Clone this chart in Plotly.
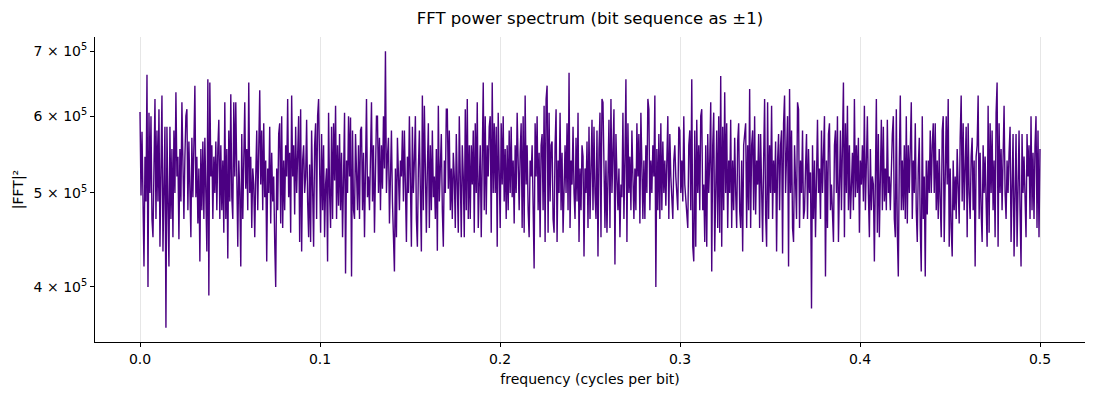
import numpy as np
import plotly.graph_objects as go

# |FFT|^2, in thousands, from f = 0 up to f = 0.5
power_k = [
    606, 497, 578, 451, 420, 545, 490, 662, 400, 605, 500, 600, 470, 450, 575, 625, 470, 580, 490, 610,
    440, 560, 630, 435, 520, 585, 363, 585, 490, 420, 585, 470, 555, 450, 580, 500, 635, 520, 545, 448,
    555, 490, 620, 520, 470, 545, 600, 610, 480, 565, 500, 450, 570, 495, 560, 645, 495, 545, 465, 530,
    425, 555, 480, 565, 470, 570, 500, 435, 655, 392, 650, 520, 560, 470, 545, 500, 565, 480, 555, 595,
    470, 560, 480, 540, 455, 620, 470, 555, 428, 580, 490, 632, 495, 470, 620, 520,
    # 0.06 - 0.12
    620, 490, 440, 540, 500, 420, 575, 470, 530, 620, 505, 555, 480, 650, 500, 545, 460, 530, 510, 450,
    520, 580, 480, 545, 638, 510, 580, 480, 590, 495, 540, 425, 530, 500, 585, 465, 550, 490, 520, 445,
    400, 530, 480, 575, 590, 465, 600, 460, 540, 480, 560, 520, 625, 495, 550, 455, 630, 520, 560, 475,
    585, 500, 545, 600, 445, 610, 435, 540, 560, 500, 520, 595, 490, 450, 535, 445, 580, 500, 440, 560,
    590, 470, 600, 625, 510, 455, 575, 480, 560, 450, 510, 530, 425, 605, 500, 460, 585, 470, 590, 515,
    615, 470, 560, 485, 575, 480, 550, 450, 520, 605, 413, 540, 500, 600, 520, 598,
    # 0.12 - 0.19
    410, 580, 480, 470, 575, 500, 480, 560, 470, 580, 585, 480, 550, 450, 540, 625, 495, 520, 480, 555,
    620, 490, 560, 455, 530, 600, 600, 500, 570, 480, 560, 505, 600, 530, 700, 500, 545, 570, 465, 520,
    580, 490, 433, 415, 530, 450, 570, 500, 480, 540, 520, 580, 490, 580, 510, 445, 545, 500, 600, 480,
    440, 585, 500, 540, 600, 470, 440, 530, 580, 500, 435, 630, 480, 615, 490, 455, 530, 590, 460, 560,
    480, 580, 495, 520, 470, 555, 436, 615, 490, 545, 575, 480, 440, 540, 500, 610, 610, 505, 580, 480,
    530, 470, 550, 520, 460, 575, 500, 455, 600, 480, 450, 560, 520, 450, 610, 480, 625, 470, 560,
    # 0.19 - 0.25
    470, 560, 510, 580, 455, 590, 500, 620, 460, 500, 560, 450, 540, 650, 480, 600, 475, 560, 520, 585,
    600, 455, 650, 500, 590, 500, 585, 440, 605, 500, 460, 590, 510, 600, 490, 555, 470, 560, 480, 580,
    500, 585, 495, 540, 465, 560, 500, 605, 510, 480, 550, 590, 460, 600, 455, 630, 510, 560, 480, 450,
    540, 520, 560, 480, 418, 590, 520, 600, 480, 550, 450, 560, 575, 480, 615, 445, 625, 645, 455, 605,
    490, 560, 565, 470, 455, 560, 610, 445, 540, 500, 605, 480, 550, 455, 520, 560, 500, 590, 480, 665,
    460, 540, 510, 585, 500, 470, 570, 490, 605, 445, 530, 480, 560, 545, 430, 530,
    # 0.25 - 0.31
    500, 565, 460, 585, 470, 540, 595, 480, 585, 500, 470, 580, 430, 555, 605, 450, 625, 620, 490, 460,
    540, 455, 520, 595, 460, 625, 500, 560, 610, 422, 575, 520, 480, 530, 450, 510, 495, 605, 470, 540,
    655, 445, 590, 500, 545, 480, 580, 520, 470, 530, 480, 590, 520, 575, 465, 605, 510, 470, 540, 470,
    560, 500, 625, 610, 480, 540, 500, 560, 520, 630, 400, 555, 480, 575, 470, 590, 480, 565, 500, 540,
    485, 555, 600, 470, 575, 520, 480, 470, 540, 560, 520, 500, 480, 585, 580, 500, 540, 490, 600, 510,
    490, 475, 460, 560, 580, 480, 655, 440, 425, 580, 440, 595, 500, 560, 480, 600,
    # 0.31 - 0.38
    610, 480, 510, 445, 560, 440, 575, 500, 540, 620, 415, 560, 605, 435, 520, 580, 460, 600, 455, 660,
    440, 585, 480, 635, 500, 590, 460, 540, 500, 595, 460, 540, 480, 570, 500, 460, 565, 590, 480, 460,
    540, 435, 560, 575, 590, 460, 560, 480, 640, 460, 560, 580, 480, 600, 475, 540, 510, 575, 460, 575,
    500, 445, 540, 625, 475, 440, 620, 470, 560, 500, 615, 470, 540, 500, 565, 435, 540, 575, 480, 560,
    580, 433, 590, 630, 500, 560, 600, 420, 640, 500, 580, 460, 445, 560, 510, 470, 620, 610, 460, 540,
    500, 580, 470, 480, 530, 575, 470, 555, 500, 525, 380, 560, 470, 540, 450, 550, 595, 500,
    # 0.38 - 0.44
    530, 470, 580, 500, 560, 600, 410, 540, 460, 575, 590, 480, 510, 470, 445, 560, 580, 500, 600, 445,
    540, 580, 480, 560, 650, 450, 590, 500, 615, 480, 560, 470, 525, 550, 480, 625, 495, 560, 500, 570,
    455, 540, 510, 560, 490, 615, 480, 560, 600, 500, 450, 555, 480, 520, 510, 425, 550, 625, 455, 575,
    450, 540, 595, 480, 585, 490, 530, 480, 595, 500, 520, 480, 545, 575, 600, 470, 450, 610, 455, 410,
    540, 630, 480, 540, 480, 560, 470, 600, 465, 560, 500, 585, 620, 470, 540, 500, 590, 480, 445, 530,
    570, 460, 415, 600, 470, 520, 410, 540, 475, 540, 500, 580, 500, 560, 590, 500,
    # 0.44 - 0.50
    590, 480, 540, 470, 555, 490, 450, 580, 600, 445, 560, 600, 510, 625, 440, 530, 460, 430, 540, 480,
    520, 470, 555, 500, 465, 570, 630, 490, 590, 480, 560, 585, 450, 590, 500, 470, 545, 570, 480, 540,
    420, 545, 560, 630, 470, 550, 480, 445, 560, 500, 545, 460, 440, 615, 455, 590, 500, 580, 480, 540,
    450, 605, 650, 440, 590, 500, 555, 480, 560, 615, 500, 470, 540, 500, 550, 585, 445, 520, 575, 430,
    540, 575, 440, 520, 580, 480, 420, 575, 500, 545, 480, 450, 575, 520, 560, 470, 600, 480, 550, 470,
    560, 600, 460, 580, 450, 555,
]

y_tick_vals = [4e5, 5e5, 6e5, 7e5]
y_tick_text = ["4 × 10<sup>5</sup>", "5 × 10<sup>5</sup>", "6 × 10<sup>5</sup>", "7 × 10<sup>5</sup>"]
x_tick_vals = [0.0, 0.1, 0.2, 0.3, 0.4, 0.5]

power = [v * 1000 for v in power_k]
freq = np.linspace(0.0, 0.5, len(power))

fig = go.Figure(
    go.Scatter(
        x=freq,
        y=power,
        mode="lines",
        line=dict(color="#4b0082", width=1.4),
        showlegend=False,
        hoverinfo="skip",
    )
)

fig.update_layout(
    width=1100,
    height=400,
    paper_bgcolor="white",
    plot_bgcolor="white",
    font=dict(family="DejaVu Sans", size=14, color="black"),
    margin=dict(l=95, r=15, t=37, b=58),
    title=dict(
        text="FFT power spectrum (bit sequence as ±1)",
        x=0.5, xref="paper", xanchor="center",
        y=1, yref="container", yanchor="top", pad=dict(t=12),
        font=dict(size=16.5, color="black"),
    ),
)

fig.update_xaxes(
    automargin=False,
    range=[-0.025, 0.525],
    tickvals=x_tick_vals,
    tickformat=".1f",
    tickfont=dict(size=14),
    showgrid=True,
    gridcolor="#e6e6e6",
    gridwidth=1,
    zeroline=False,
    showline=True,
    linecolor="black",
    linewidth=1,
    ticks="outside",
    ticklen=4,
    tickcolor="black",
    title=dict(text="frequency (cycles per bit)", standoff=8, font=dict(size=14)),
)

fig.update_yaxes(
    automargin=False,
    type="log",
    range=[np.log10(3.51e5), np.log10(7.24e5)],
    tickvals=y_tick_vals,
    ticktext=y_tick_text,
    tickfont=dict(size=14),
    showgrid=False,
    zeroline=False,
    showline=True,
    linecolor="black",
    linewidth=1,
    ticks="outside",
    ticklen=4,
    tickcolor="black",
    title=dict(text="|FFT|²", standoff=6, font=dict(size=14)),
)

# drop the page's default body margin so the figure sits at the window corner
fig.write_html(
    "out.html",
    config={"displayModeBar": False},
    post_script="document.body.style.margin='0';document.body.style.overflow='hidden';",
)
